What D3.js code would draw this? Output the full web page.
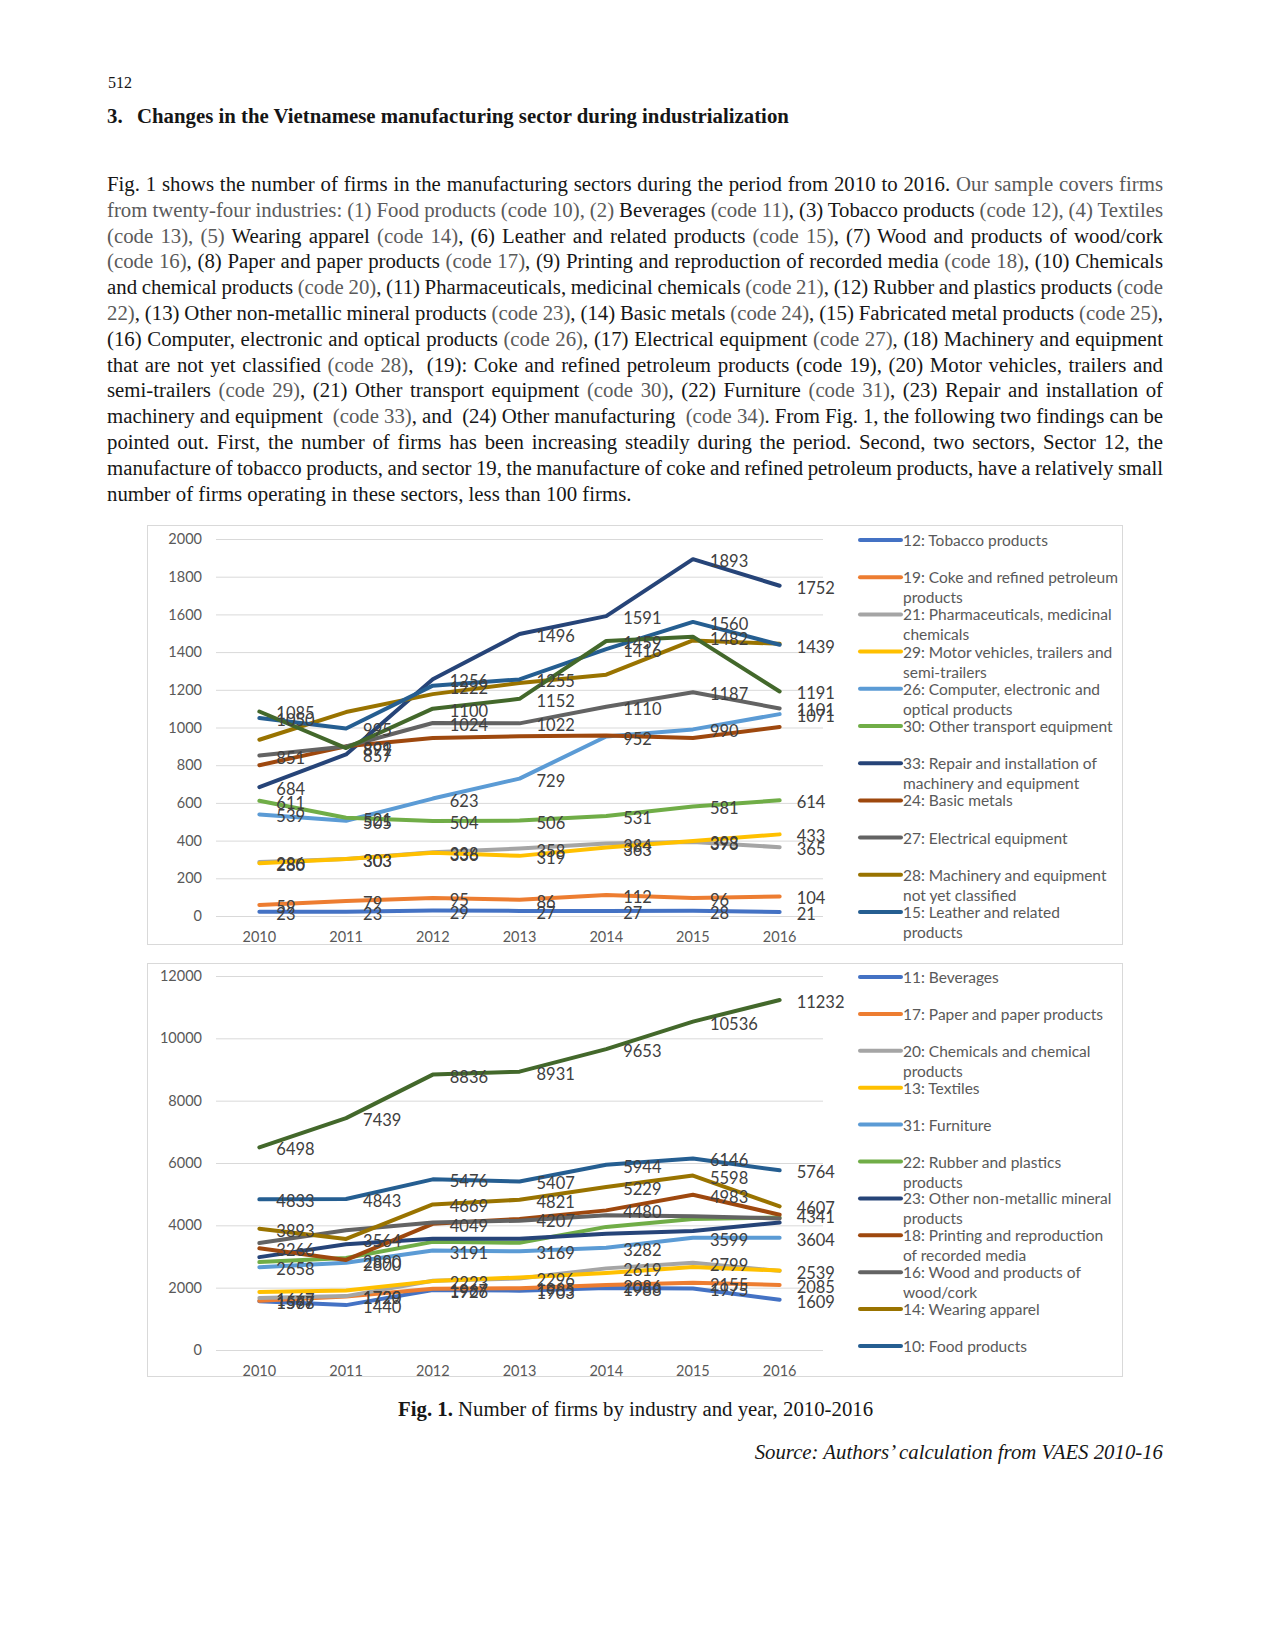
<!DOCTYPE html>
<html><head><meta charset="utf-8">
<script src="https://cdn.jsdelivr.net/npm/d3@7"></script>
<style>
body{margin:0;background:#fff;}
#page{position:relative;width:1274px;height:1649px;overflow:hidden;font-family:"Liberation Serif","Times New Roman",serif;color:#161616;}
.abs{position:absolute;white-space:nowrap;}
.pl{position:absolute;left:107px;font-size:20.8px;line-height:26px;white-space:nowrap;}
.g{color:#5a5a5a;}
svg{position:absolute;left:0;top:0;}
</style></head>
<body><div id="page"></div>
<script>
// ---------- DATA ----------
const years = ["2010","2011","2012","2013","2014","2015","2016"];
const topTicks = [0,200,400,600,800,1000,1200,1400,1600,1800,2000];
const bottomTicks = [0,2000,4000,6000,8000,10000,12000];

// top chart series
const tobacco12 = [23,23,29,27,27,28,21];
const coke19 = [59,79,95,86,112,96,104];
const pharma21 = [286,303,338,358,384,393,365];
const motor29 = [280,303,336,319,363,398,433];
const computer26 = [539,505,623,729,952,990,1071];
const transport30 = [611,521,504,506,531,581,614];
const repair33 = [684,857,1256,1496,1591,1893,1752];
const basicMetals24 = [800,900,944,953,957,944,1003];
const electrical27 = [851,899,1024,1022,1110,1187,1101];
const machinery28 = [935,1082,1177,1236,1280,1462,1444];
const leather15 = [1050,995,1222,1255,1416,1560,1439];
const otherMfg32 = [1085,891,1100,1152,1459,1482,1191];

// bottom chart series
const beverages11 = [1568,1440,1926,1903,1988,1975,1609];
const paper17 = [1577,1720,1967,1985,2086,2155,2085];
const chemicals20 = [1667,1729,2223,2296,2619,2799,2539];
const textiles13 = [1860,1910,2210,2330,2470,2660,2550];
const furniture31 = [2658,2800,3191,3169,3282,3599,3604];
const rubber22 = [2820,2950,3470,3440,3950,4200,4250];
const nonMetallic23 = [2980,3390,3570,3570,3730,3820,4090];
const printing18 = [3266,2890,4049,4207,4480,4983,4341];
const wood16 = [3430,3840,4090,4150,4320,4290,4220];
const apparel14 = [3893,3564,4669,4821,5229,5598,4607];
const food10 = [4833,4843,5476,5407,5944,6146,5764];
const fabricated25 = [6498,7439,8836,8931,9653,10536,11232];

const topSeries = [
  {name:["12: Tobacco products"], values:tobacco12, label:true},
  {name:["19: Coke and refined petroleum","products"], values:coke19, label:true},
  {name:["21: Pharmaceuticals, medicinal","chemicals"], values:pharma21, label:true},
  {name:["29: Motor vehicles, trailers and","semi-trailers"], values:motor29, label:true},
  {name:["26: Computer, electronic and","optical products"], values:computer26, label:true},
  {name:["30: Other transport equipment"], values:transport30, label:true},
  {name:["33: Repair and installation of","machinery and equipment"], values:repair33, label:true},
  {name:["24: Basic metals"], values:basicMetals24, label:false},
  {name:["27: Electrical equipment"], values:electrical27, label:true},
  {name:["28: Machinery and equipment","not yet classified"], values:machinery28, label:false},
  {name:["15: Leather and related","products"], values:leather15, label:true},
  {name:["32: Other manufacturing"], values:otherMfg32, label:true, hiddenLegend:true}
];
const bottomSeries = [
  {name:["11: Beverages"], values:beverages11, label:true},
  {name:["17: Paper and paper products"], values:paper17, label:true},
  {name:["20: Chemicals and chemical","products"], values:chemicals20, label:true},
  {name:["13: Textiles"], values:textiles13, label:false},
  {name:["31: Furniture"], values:furniture31, label:true},
  {name:["22: Rubber and plastics","products"], values:rubber22, label:false},
  {name:["23: Other non-metallic mineral","products"], values:nonMetallic23, label:false},
  {name:["18: Printing and reproduction","of recorded media"], values:printing18, label:true},
  {name:["16: Wood and products of","wood/cork"], values:wood16, label:false},
  {name:["14: Wearing apparel"], values:apparel14, label:true},
  {name:["10: Food products"], values:food10, label:true},
  {name:["25: Fabricated metal products"], values:fabricated25, label:true, hiddenLegend:true}
];

const palette = ["#4472C4","#ED7D31","#A5A5A5","#FFC000","#5B9BD5","#70AD47",
                 "#264478","#9E480E","#636363","#997300","#255E91","#43682B"];

const paraLines = [
"Fig. 1 shows the number of firms in the manufacturing sectors during the period from 2010 to 2016. <g>Our sample covers firms</g>",
"<g>from twenty-four industries: (1) Food products (code 10), (2)</g> Beverages <g>(code 11)</g>, (3) Tobacco products <g>(code 12), (4) Textiles</g>",
"<g>(code 13), (5)</g> Wearing apparel <g>(code 14)</g>, (6) Leather and related products <g>(code 15)</g>, (7) Wood and products of wood/cork",
"<g>(code 16)</g>, (8) Paper and paper products <g>(code 17)</g>, (9) Printing and reproduction of recorded media <g>(code 18)</g>, (10) Chemicals",
"and chemical products <g>(code 20)</g>, (11) Pharmaceuticals, medicinal chemicals <g>(code 21)</g>, (12) Rubber and plastics products <g>(code</g>",
"<g>22)</g>, (13) Other non-metallic mineral products <g>(code 23)</g>, (14) Basic metals <g>(code 24)</g>, (15) Fabricated metal products <g>(code 25)</g>,",
"(16) Computer, electronic and optical products <g>(code 26)</g>, (17) Electrical equipment <g>(code 27)</g>, (18) Machinery and equipment",
"that are not yet classified <g>(code 28)</g>, &nbsp;(19): Coke and refined petroleum products (code 19), (20) Motor vehicles, trailers and",
"semi-trailers <g>(code 29)</g>, (21) Other transport equipment <g>(code 30)</g>, (22) Furniture <g>(code 31)</g>, (23) Repair and installation of",
"machinery and equipment &nbsp;<g>(code 33)</g>, and &nbsp;(24) Other manufacturing &nbsp;<g>(code 34)</g>. From Fig. 1, the following two findings can be",
"pointed out. First, the number of firms has been increasing steadily during the period. Second, two sectors, Sector 12, the",
"manufacture of tobacco products, and sector 19, the manufacture of coke and refined petroleum products, have a relatively small",
"number of firms operating in these sectors, less than 100 firms."
];

// ---------- PAGE TEXT ----------
const page = d3.select("#page");
page.append("div").attr("class","abs").style("left","108px").style("top","74px").style("font-size","16px").text("512");
page.append("div").attr("class","abs").style("left","107px").style("top","104px").style("font-size","20.8px").style("font-weight","bold").text("3.");
page.append("div").attr("class","abs").style("left","137px").style("top","104px").style("font-size","20.8px").style("font-weight","bold")
  .text("Changes in the Vietnamese manufacturing sector during industrialization");

const paraWidth = 1056, paraTop = 171, paraLH = 25.8;
paraLines.forEach((ln,i)=>{
  const div = page.append("div").attr("class","pl").style("top",(paraTop+i*paraLH)+"px");
  const span = div.append("span").html(ln.replace(/<g>/g,'<span class="g">').replace(/<\/g>/g,'</span>'));
  if(i < paraLines.length-1){
    const w = span.node().getBoundingClientRect().width;
    const txt = span.node().textContent;
    const spaces = (txt.match(/ /g)||[]).length + (txt.match(/\u00a0/g)||[]).length;
    span.style("word-spacing", ((paraWidth - w)/spaces)+"px");
  }
});

page.append("div").attr("class","abs").style("left","398px").style("top","1397px").style("font-size","20.8px")
  .html('<b>Fig. 1.</b> Number of firms by industry and year, 2010-2016');
page.append("div").attr("class","abs").style("right",(1274-1163)+"px").style("top","1440px").style("font-size","20.8px").style("font-style","italic")
  .text("Source: Authors’ calculation from VAES 2010-16");

// ---------- CHARTS ----------
const svg = page.append("svg").attr("width",1274).attr("height",1649);
const chartFont = "Lato, 'Open Sans', sans-serif";

function drawChart(cfg){
  const g = svg.append("g");
  g.append("rect").attr("x",cfg.box[0]+0.5).attr("y",cfg.box[1]+0.5).attr("width",cfg.box[2]).attr("height",cfg.box[3])
    .attr("fill","#fff").attr("stroke","#D9D9D9").attr("stroke-width",1);
  const x = d3.scaleBand().domain(years).range([cfg.x0,cfg.x1]);
  const xc = d => x(d) + x.bandwidth()/2;
  const y = d3.scaleLinear().domain([0,cfg.ymax]).range([cfg.y0,cfg.y1]);

  const ya = g.append("g").attr("transform",`translate(${cfg.x0},0)`)
    .call(d3.axisLeft(y).tickValues(cfg.ticks).tickSize(-(cfg.x1-cfg.x0)).tickPadding(14).tickFormat(d3.format("d")));
  ya.select(".domain").remove();
  ya.selectAll("line").attr("stroke","#D9D9D9");
  ya.selectAll("text").attr("fill","#595959").style("font-family",chartFont).style("font-size","14.5px");

  const xa = g.append("g").attr("transform",`translate(0,${cfg.y0})`)
    .call(d3.axisBottom(x).tickSize(0).tickPadding(16));
  xa.select(".domain").remove();
  xa.selectAll("text").attr("fill","#595959").style("font-family",chartFont).style("font-size","14.5px");

  const line = d3.line().x((d,i)=>xc(years[i])).y(d=>y(d));
  cfg.series.forEach((s,k)=>{
    g.append("path").datum(s.values).attr("d",line).attr("fill","none")
      .attr("stroke",palette[k]).attr("stroke-width",4).attr("stroke-linejoin","round").attr("stroke-linecap","round");
  });
  cfg.series.forEach((s,k)=>{
    if(!s.label) return;
    g.selectAll(null).data(s.values).enter().append("text")
      .attr("x",(d,i)=>xc(years[i])+17).attr("y",d=>y(d)+2)
      .attr("dominant-baseline","central").attr("fill","#404040")
      .style("font-family",chartFont).style("font-size","16.5px").text(d=>d);
  });
  // legend
  const leg = g.append("g");
  cfg.series.filter(s=>!s.hiddenLegend).forEach((s,k)=>{
    const ly = cfg.legY + k*cfg.legStep;
    leg.append("line").attr("x1",860).attr("x2",901).attr("y1",ly).attr("y2",ly)
      .attr("stroke",palette[k]).attr("stroke-width",4).attr("stroke-linecap","round");
    s.name.forEach((t,j)=>{
      leg.append("text").attr("x",903).attr("y",ly+j*20).attr("dominant-baseline","central")
        .attr("fill","#595959").style("font-family",chartFont).style("font-size","15.5px").text(t);
    });
  });
}

drawChart({box:[147,525,975,419], x0:216, x1:823, y0:916, y1:539, ymax:2000, ticks:topTicks,
  series:topSeries, legY:540, legStep:37.2});
drawChart({box:[147,963,975,413], x0:216, x1:823, y0:1350, y1:976, ymax:12000, ticks:bottomTicks,
  series:bottomSeries, legY:977, legStep:36.9});
</script>
</body></html>
